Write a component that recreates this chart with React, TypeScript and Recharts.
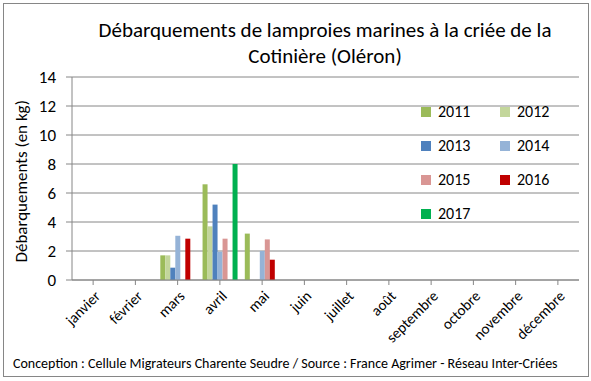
import React from 'react'
import { BarChart, Bar, XAxis, YAxis, CartesianGrid } from 'recharts'

const months = ['janvier', 'février', 'mars', 'avril', 'mai', 'juin', 'juillet', 'août', 'septembre', 'octobre', 'novembre', 'décembre']
const years = ['2011', '2012', '2013', '2014', '2015', '2016', '2017']
const colors = ['#9BBB59', '#C3D69B', '#4F81BD', '#95B3D7', '#D99694', '#C00000', '#00B050']

const v2011 = [0, 0, 1.7, 6.6, 3.2, 0, 0, 0, 0, 0, 0, 0]
const v2012 = [0, 0, 1.7, 3.7, 0, 0, 0, 0, 0, 0, 0, 0]
const v2013 = [0, 0, 0.85, 5.2, 0, 0, 0, 0, 0, 0, 0, 0]
const v2014 = [0, 0, 3.05, 1.95, 2.0, 0, 0, 0, 0, 0, 0, 0]
const v2015 = [0, 0, 0, 2.85, 2.8, 0, 0, 0, 0, 0, 0, 0]
const v2016 = [0, 0, 2.85, 0, 1.4, 0, 0, 0, 0, 0, 0, 0]
const v2017 = [0, 0, 0, 8.0, 0, 0, 0, 0, 0, 0, 0, 0]
const yTicks = [0, 2, 4, 6, 8, 10, 12, 14]

const series = [v2011, v2012, v2013, v2014, v2015, v2016, v2017]
const data = months.map((m, i) => {
  const row: any = { month: m }
  years.forEach((y, k) => { row[y] = series[k][i] })
  return row
})

const font = 'Carlito, Calibri, "Open Sans", sans-serif'

const MonthTick = (props: any) => {
  const { x, y, payload } = props
  return (
    <text x={x + 8} y={y + 10} textAnchor="end" fontSize={15} fill="#000"
      fontFamily={font} transform={`rotate(-45 ${x + 8} ${y + 10})`}>
      {payload.value}
    </text>
  )
}

// legende dans le graphique, 2 colonnes
const LegendBox = () => (
  <div style={{ position: 'absolute', left: 421, top: 102, width: 170, height: 130, fontSize: 16 }}>
    {years.map((y, k) => (
      <div key={y} style={{
        position: 'absolute',
        left: (k % 2) * 79,
        top: Math.floor(k / 2) * 34,
        display: 'flex', alignItems: 'center'
      }}>
        <span style={{ width: 10, height: 10, background: colors[k], marginRight: 7 }} />
        <span>{y}</span>
      </div>
    ))}
  </div>
)

export default function App() {
  return (
    <div style={{ position: 'absolute', left: 0, top: 0, width: 591, height: 381, background: '#fff', fontFamily: font }}>
      <div style={{ position: 'absolute', left: 3, top: 3, width: 584, height: 372, border: '1px solid #868686' }} />
      <BarChart width={591} height={381} data={data}
        margin={{ top: 77, right: 12, bottom: 31, left: 22 }}
        barCategoryGap="9%" barGap={0}>
        <CartesianGrid vertical={false} stroke="#868686" />
        <XAxis dataKey="month" interval={0} height={70} tick={<MonthTick />} tickLine={{ stroke: '#868686' }}
          axisLine={{ stroke: '#868686' }} tickSize={5} />
        <YAxis width={50} domain={[0, 14]} ticks={yTicks} tickLine={{ stroke: '#868686' }}
          axisLine={{ stroke: '#868686' }} tick={{ fill: '#000', fontSize: 17, fontFamily: font, dx: -8 }}
          label={{ value: 'Débarquements  (en kg)', angle: -90, position: 'insideLeft', dx: -6, dy: 84, style: { fontSize: 17, fill: '#000', fontFamily: font } }} />
        {years.map((y, k) => (
          <Bar key={y} dataKey={y} fill={colors[k]} isAnimationActive={false} />
        ))}
      </BarChart>
      <div style={{ position: 'absolute', left: 60, width: 530, top: 17, textAlign: 'center', fontSize: 21, lineHeight: '26px' }}>
        Débarquements de lamproies marines à la criée de la<br />Cotinière (Oléron)
      </div>
      <LegendBox />
      <div style={{ position: 'absolute', left: 13, top: 355, fontSize: 14, whiteSpace: 'nowrap' }}>
        Conception : Cellule Migrateurs Charente Seudre / Source : France Agrimer - Réseau Inter-Criées
      </div>
    </div>
  )
}
